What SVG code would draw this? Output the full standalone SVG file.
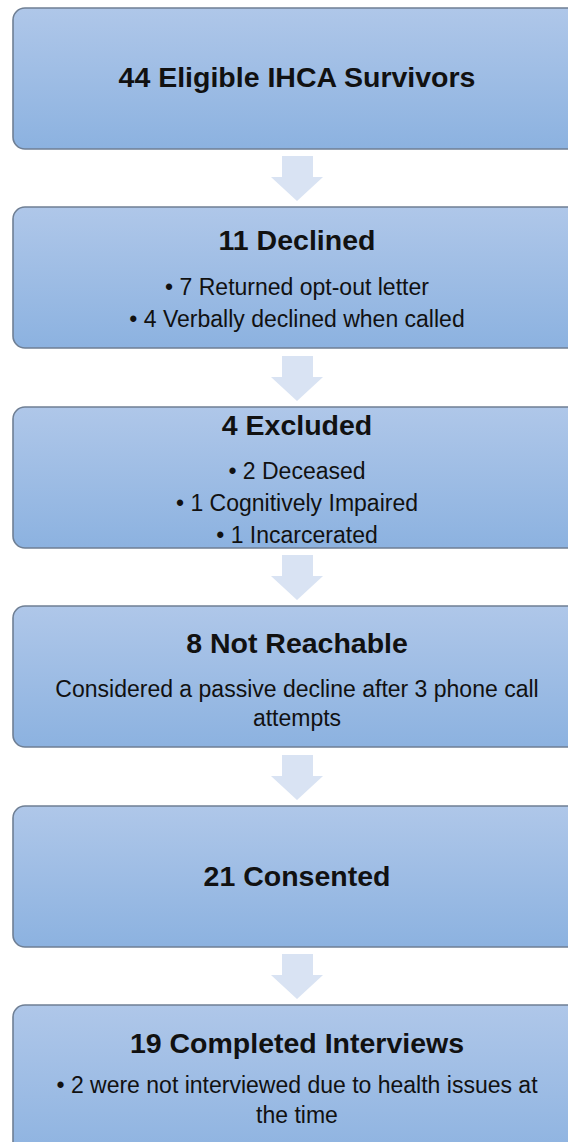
<svg xmlns="http://www.w3.org/2000/svg" width="568" height="1142" viewBox="0 0 568 1142">
<style>
.box{fill:url(#g);stroke:#6f7f94;stroke-width:1.6}
.t{font-family:"Liberation Sans",Arial,sans-serif;font-weight:bold;font-size:28.5px;fill:#111;text-anchor:middle}
.b{font-family:"Liberation Sans",Arial,sans-serif;font-size:23px;fill:#111;text-anchor:middle}
.arr{fill:#d9e3f3}
</style>
<defs>
<linearGradient id="g" x1="0" y1="0" x2="0" y2="1">
<stop offset="0" stop-color="#afc7e9"/>
<stop offset="1" stop-color="#8cb2e0"/>
</linearGradient>
</defs>
<rect width="568" height="1142" fill="#fff"/>
<g id="connectors">
<path class="arr" d="M282 156H313V177H323L297 201L271 177H282Z"/>
<path class="arr" d="M282 356H313V377H323L297 401L271 377H282Z"/>
<path class="arr" d="M282 555H313V576H323L297 600L271 576H282Z"/>
<path class="arr" d="M282 755H313V776H323L297 800L271 776H282Z"/>
<path class="arr" d="M282 954H313V975H323L297 999L271 975H282Z"/>
</g>
<g id="n1">
<rect class="box" x="13" y="8" width="570" height="141" rx="12"/>
<text class="t" x="297" y="87">44 Eligible IHCA Survivors</text>
</g>
<g id="n2">
<rect class="box" x="13" y="207" width="570" height="141" rx="12"/>
<text class="t" x="297" y="250">11 Declined</text>
<text class="b" x="297" y="295">• 7 Returned opt-out letter</text>
<text class="b" x="297" y="327">• 4 Verbally declined when called</text>
</g>
<g id="n3">
<rect class="box" x="13" y="407" width="570" height="141" rx="12"/>
<text class="t" x="297" y="435">4 Excluded</text>
<text class="b" x="297" y="479">• 2 Deceased</text>
<text class="b" x="297" y="511">• 1 Cognitively Impaired</text>
<text class="b" x="297" y="543">• 1 Incarcerated</text>
</g>
<g id="n4">
<rect class="box" x="13" y="606" width="570" height="141" rx="12"/>
<text class="t" x="297" y="653">8 Not Reachable</text>
<text class="b" x="297" y="697">Considered a passive decline after 3 phone call</text>
<text class="b" x="297" y="726">attempts</text>
</g>
<g id="n5">
<rect class="box" x="13" y="806" width="570" height="141" rx="12"/>
<text class="t" x="297" y="886">21 Consented</text>
</g>
<g id="n6">
<rect class="box" x="13" y="1005" width="570" height="160" rx="12"/>
<text class="t" x="297" y="1053">19 Completed Interviews</text>
<text class="b" x="297" y="1093">• 2 were not interviewed due to health issues at</text>
<text class="b" x="297" y="1123">the time</text>
</g>
</svg>
